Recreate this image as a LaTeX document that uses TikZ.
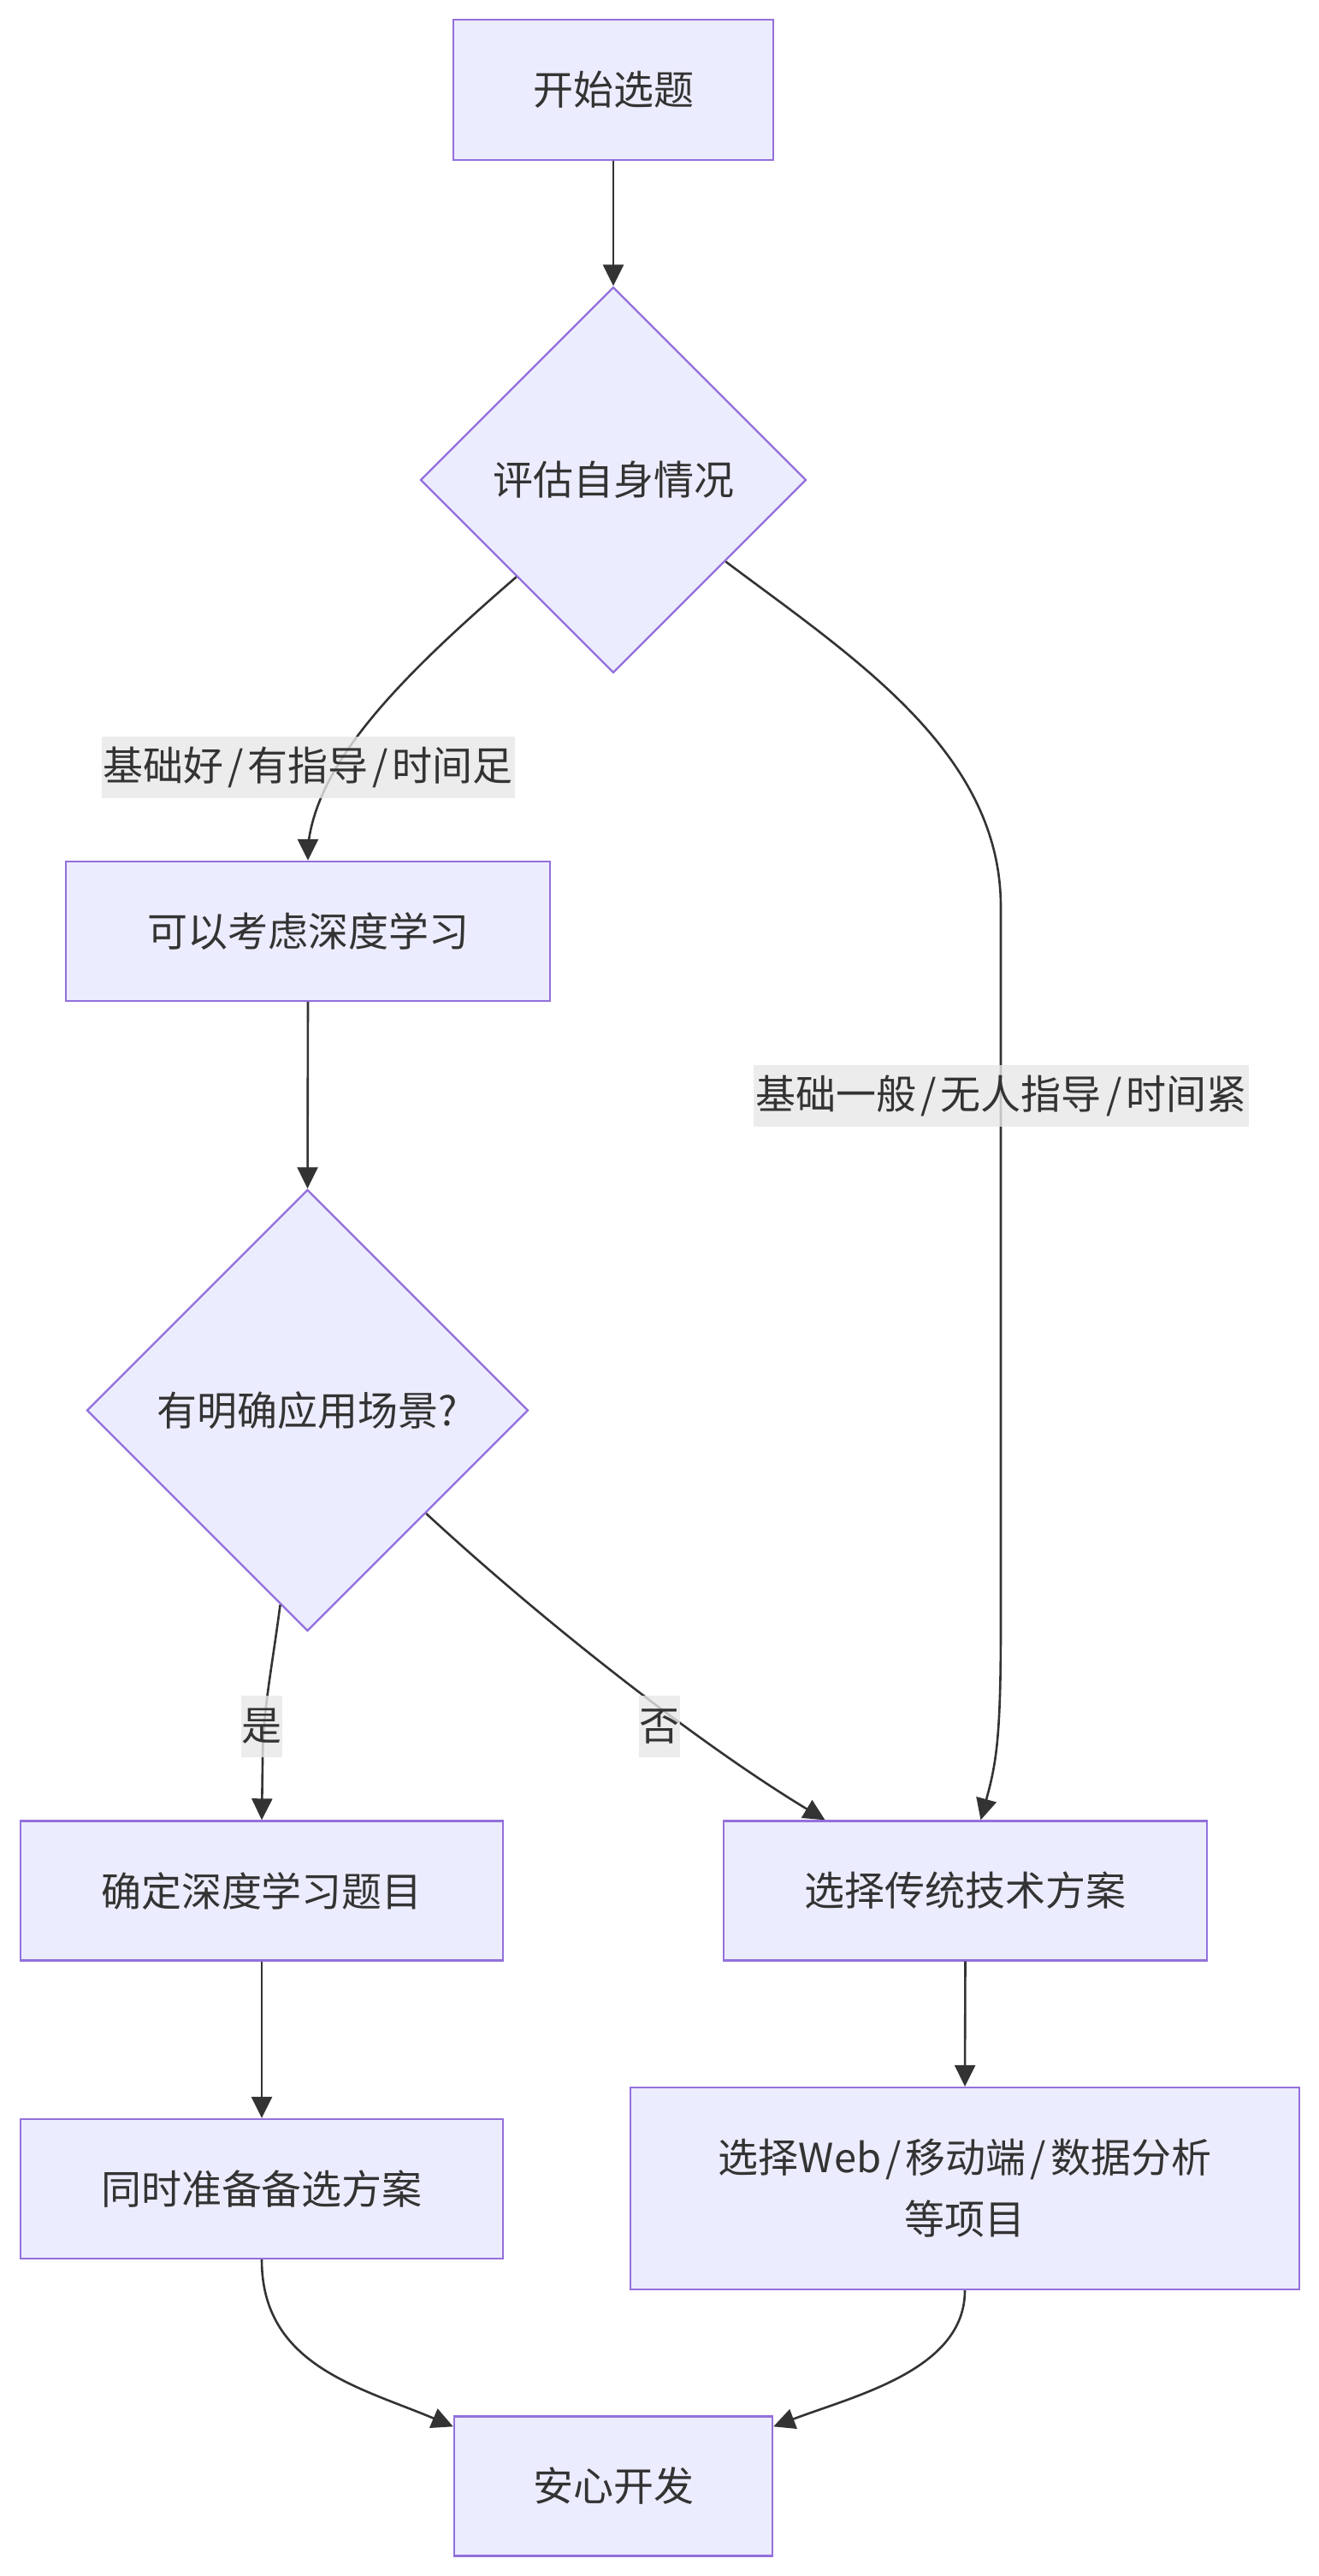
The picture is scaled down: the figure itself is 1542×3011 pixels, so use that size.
\documentclass[tikz,border=0pt]{standalone}
\usepackage{fontspec}
\newfontfamily\cjk{Noto Sans CJK SC}
\usetikzlibrary{shapes.geometric,arrows.meta}
\definecolor{nodefill}{HTML}{ECECFF}
\definecolor{nodeline}{HTML}{9370DB}
\definecolor{edgecol}{HTML}{333333}
\definecolor{lblfill}{HTML}{E8E8E8}
\definecolor{txt}{HTML}{333333}
\newcommand{\slsh}{\kern2.5pt/\kern2.5pt}
\begin{document}
\begin{tikzpicture}[x=0.5pt,y=-0.5pt,
  base/.style={font=\cjk\fontsize{23.5pt}{36pt}\selectfont, text=txt, inner sep=0pt},
  box/.style={base, draw=nodeline, fill=nodefill, line width=1.2pt, rectangle, align=center},
  dia/.style={base, draw=nodeline, fill=nodefill, line width=1.2pt, diamond},
  lbl/.style={base, fill=lblfill, fill opacity=0.8, text opacity=1},
  arr/.style={draw=edgecol, line width=1.3pt, -{Triangle[length=12.5pt,width=12pt]}}
]
\useasboundingbox (0,0) rectangle (1542,3011);
\fill[white] (0,0) rectangle (1542,3011);

% nodes
\node[box, minimum width=187pt, minimum height=82pt] (A) at (717,105) {开始选题};
\node[dia, minimum width=225.5pt, minimum height=225.5pt] (B) at (717,561) {评估自身情况};
\node[box, minimum width=283pt, minimum height=81.5pt] (D) at (360,1088.5) {可以考虑深度学习};
\node[dia, minimum width=258pt, minimum height=258pt] (E) at (359.5,1648.5) {有明确应用场景?};
\node[box, minimum width=282pt, minimum height=81.5pt] (F) at (306,2210) {确定深度学习题目};
\node[box, minimum width=282.5pt, minimum height=81.5pt] (G) at (1128.5,2210) {选择传统技术方案};
\node[box, minimum width=282pt, minimum height=81.5pt] (H) at (306,2558.5) {同时准备备选方案};
\node[box, minimum width=391pt, minimum height=118pt] (I) at (1128,2558) {选择Web\slsh 移动端\slsh 数据分析\\等项目};
\node[box, minimum width=186pt, minimum height=81.5pt] (J) at (717,2906) {安心开发};

% edges
\draw[arr] (A.south) -- (B.north);
\draw[arr] (B.south west) .. controls (470,790) and (370,890) .. (360,990) -- (D.north);
\draw[arr] (B.-36.7) .. controls (1000,770) and (1170,880) .. (1170,1060) -- (1170,1900) .. controls (1170,2030) and (1165,2060) .. ([xshift=9pt]G.north);
\draw[arr] (D.south) -- (E.north);
\draw[arr] (E.-98) .. controls (318,1950) and (307,2000) .. (307,2060) -- (F.north);
\draw[arr] (E.-41.7) .. controls (640,1900) and (820,2040) .. ([xshift=-82pt]G.north);
\draw[arr] (F.south) -- (H.north);
\draw[arr] (G.south) -- (I.north);
\draw[arr] (H.south) .. controls (306,2765) and (420,2790) .. ([yshift=-6.5pt]J.north west);
\draw[arr] (I.south) .. controls (1128,2770) and (1000,2800) .. ([yshift=-6.5pt]J.north east);

% edge labels
\node[lbl, minimum width=241.5pt, minimum height=36pt] (L1) at (360,897) {基础好\slsh 有指导\slsh 时间足};
\node[lbl, minimum width=289.5pt, minimum height=36pt] (L2) at (1170.5,1281) {基础一般\slsh 无人指导\slsh 时间紧};
\node[lbl, minimum width=24pt, minimum height=36pt] (L3) at (306,2018) {是};
\node[lbl, minimum width=24pt, minimum height=36pt] (L4) at (771,2018) {否};
\end{tikzpicture}
\end{document}
